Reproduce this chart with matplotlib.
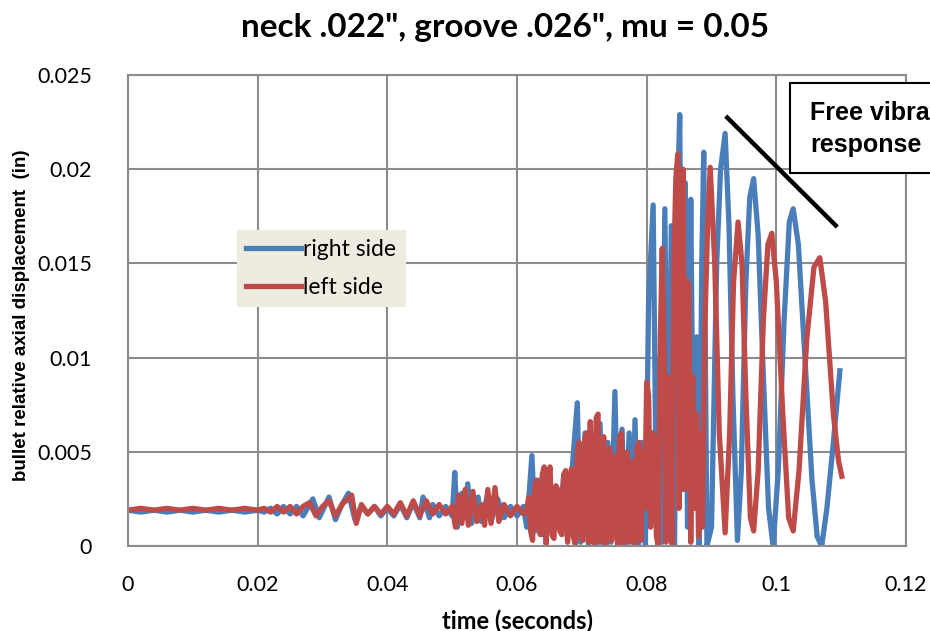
import matplotlib
matplotlib.use("Agg")
import matplotlib.pyplot as plt
from matplotlib.patches import Rectangle

plt.rcParams['font.family'] = ['Lato', 'DejaVu Sans']

# right side (blue) readings: time (s), relative axial displacement (in)
t_right = [0.000, 0.002, 0.004, 0.006, 0.008, 0.010, 0.012, 0.014, 0.016, 0.018, 0.020,
           0.021, 0.022, 0.023, 0.024, 0.025, 0.026, 0.027, 0.0285, 0.0295, 0.031, 0.032,
           0.033, 0.034, 0.035, 0.036, 0.037, 0.038, 0.039, 0.040, 0.041, 0.042, 0.043,
           0.044, 0.045, 0.0455, 0.0465, 0.047, 0.048, 0.049, 0.050, 0.0504, 0.0508,
           0.0515, 0.052, 0.0524, 0.053, 0.054, 0.0545, 0.0555, 0.056, 0.057, 0.058,
           0.059, 0.060, 0.061, 0.0615, 0.0623, 0.0628, 0.0635, 0.064, 0.0648, 0.0655,
           0.066, 0.0665, 0.0672, 0.0678, 0.0686, 0.0693, 0.0698, 0.0705, 0.071, 0.0716,
           0.0722, 0.0728, 0.0734, 0.074, 0.0745, 0.0751, 0.0756, 0.0762, 0.0767, 0.0773,
           0.0778, 0.0782, 0.0787, 0.0793, 0.0798, 0.0803, 0.0810, 0.0815, 0.0820, 0.0824,
           0.0828, 0.0833, 0.0838, 0.0843, 0.0848, 0.0851, 0.0855, 0.0859, 0.0863, 0.0868,
           0.0872, 0.0877, 0.0881, 0.0885, 0.0888, 0.0893, 0.0900, 0.0908, 0.0914, 0.0921,
           0.0927, 0.0933, 0.0940, 0.0946, 0.0953, 0.0959, 0.0965, 0.0972, 0.0980, 0.0988,
           0.0995, 0.1003, 0.1012, 0.1020, 0.1026, 0.1034, 0.1044, 0.1055, 0.1063, 0.1070,
           0.1078, 0.1088, 0.1098]
y_right = [0.0019, 0.0018, 0.0019, 0.0018, 0.0019, 0.0018, 0.0019, 0.0018, 0.0019, 0.0018, 0.0019,
           0.0018, 0.0020, 0.0017, 0.0021, 0.0017, 0.0021, 0.0016, 0.0025, 0.0015, 0.0026, 0.0014,
           0.0022, 0.0028, 0.0014, 0.0021, 0.0017, 0.0021, 0.0016, 0.0020, 0.0016, 0.0022, 0.0015,
           0.0023, 0.0015, 0.0026, 0.0015, 0.0022, 0.0016, 0.0021, 0.0016, 0.0039, 0.0010,
           0.0028, 0.0015, 0.0033, 0.0012, 0.0026, 0.0013, 0.0028, 0.0013, 0.0025, 0.0015,
           0.0021, 0.0016, 0.0021, 0.0010, 0.0048, 0.0008, 0.0035, 0.0006, 0.0034, 0.0005,
           0.0028, 0.0010, 0.0037, 0.0003, 0.0045, 0.0076, 0.0002, 0.0060, 0.0001, 0.0058,
           0.0000, 0.0065, 0.0001, 0.0055, 0.0002, 0.0082, 0.0001, 0.0062, 0.0000, 0.0060,
           0.0002, 0.0067, 0.0000, 0.0055, 0.0000, 0.0130, 0.0181, 0.0020, 0.0100, 0.0002,
           0.0179, 0.0010, 0.0170, 0.0000, 0.0190, 0.0229, 0.0030, 0.0193, 0.0010, 0.0184,
           0.0040, 0.0111, 0.0000, 0.0150, 0.0209, 0.0000, 0.0010, 0.0150, 0.0200, 0.0219,
           0.0170, 0.0080, 0.0003, 0.0040, 0.0140, 0.0185, 0.0195, 0.0165, 0.0090, 0.0020,
           0.0000, 0.0040, 0.0120, 0.0172, 0.0179, 0.0160, 0.0100, 0.0035, 0.0005, 0.0000,
           0.0020, 0.0055, 0.0093]

# left side (red) readings
t_left = [0.000, 0.002, 0.004, 0.006, 0.008, 0.010, 0.012, 0.014, 0.016, 0.018, 0.020,
          0.021, 0.022, 0.023, 0.024, 0.025, 0.026, 0.027, 0.028, 0.029, 0.030,
          0.031, 0.032, 0.033, 0.0345, 0.0352, 0.036, 0.037, 0.038, 0.039, 0.040,
          0.041, 0.042, 0.043, 0.044, 0.045, 0.046, 0.047, 0.048, 0.049, 0.050,
          0.0505, 0.051, 0.0515, 0.052, 0.0525, 0.0532, 0.0538, 0.0545, 0.055, 0.0555,
          0.056, 0.0566, 0.0572, 0.058, 0.059, 0.060, 0.061,
          0.0615, 0.0618, 0.0621, 0.0624, 0.0627, 0.0630, 0.0633, 0.0636, 0.0639, 0.0642,
          0.0645, 0.0648, 0.0651, 0.0654, 0.0657, 0.0660, 0.0663, 0.0666, 0.0669, 0.0672,
          0.0675, 0.0678, 0.0681, 0.0684, 0.0687, 0.0690, 0.0693, 0.0696, 0.0699, 0.0702,
          0.0705, 0.0708, 0.0711, 0.0713, 0.0716, 0.0719, 0.0722, 0.0725, 0.0728, 0.0731,
          0.0734, 0.0737, 0.0740, 0.0743, 0.0746, 0.0749, 0.0752, 0.0755, 0.0758, 0.0761,
          0.0764, 0.0767, 0.0770, 0.0773, 0.0776, 0.0779, 0.0782, 0.0785, 0.0788, 0.0791,
          0.0794, 0.0797, 0.0800, 0.0803, 0.0806, 0.0809, 0.0812, 0.0815, 0.0818, 0.0821,
          0.0824, 0.0827, 0.0830, 0.0833, 0.0836, 0.0839, 0.0842, 0.0845, 0.0848, 0.0850,
          0.0853, 0.0856, 0.0859, 0.0862, 0.0865, 0.0868, 0.0871, 0.0874, 0.0877, 0.0880,
          0.0883, 0.0886, 0.0890, 0.0894, 0.0898,
          0.0905, 0.0912, 0.0921, 0.0928, 0.0934, 0.0941, 0.0947, 0.0953, 0.0960, 0.0965,
          0.0972, 0.0980, 0.0987, 0.0993, 0.1000, 0.1010, 0.1019, 0.1026, 0.1035, 0.1047,
          0.1058, 0.1067, 0.1076, 0.1088, 0.1096, 0.1101]
y_left = [0.0019, 0.0020, 0.0019, 0.0020, 0.0019, 0.0020, 0.0019, 0.0020, 0.0019, 0.0020, 0.0019,
          0.0020, 0.0018, 0.0021, 0.0018, 0.0021, 0.0017, 0.0021, 0.0023, 0.0016, 0.0021,
          0.0024, 0.0016, 0.0022, 0.0027, 0.0012, 0.0022, 0.0017, 0.0021, 0.0017, 0.0021,
          0.0017, 0.0023, 0.0016, 0.0024, 0.0016, 0.0024, 0.0017, 0.0022, 0.0017, 0.0021,
          0.0010, 0.0027, 0.0012, 0.0030, 0.0011, 0.0029, 0.0013, 0.0022, 0.0011, 0.0030,
          0.0012, 0.0031, 0.0013, 0.0022, 0.0016, 0.0021, 0.0017,
          0.0019, 0.0026, 0.0008, 0.0003, 0.0030, 0.0035, 0.0010, 0.0006, 0.0038, 0.0042,
          0.0001, 0.0035, 0.0042, 0.0006, 0.0004, 0.0032, 0.0030, 0.0008, 0.0006, 0.0038,
          0.0040, 0.0002, 0.0030, 0.0041, 0.0005, 0.0001, 0.0050, 0.0055, 0.0004, 0.0003,
          0.0058, 0.0060, 0.0002, 0.0066, 0.0010, 0.0001, 0.0068, 0.0070, 0.0002, 0.0055,
          0.0058, 0.0000, 0.0050, 0.0052, 0.0003, 0.0045, 0.0048, 0.0001, 0.0057, 0.0060,
          0.0000, 0.0045, 0.0050, 0.0002, 0.0040, 0.0045, 0.0000, 0.0052, 0.0055, 0.0003,
          0.0050, 0.0020, 0.0087, 0.0080, 0.0010, 0.0060, 0.0058, 0.0005, 0.0000, 0.0110,
          0.0158, 0.0100, 0.0002, 0.0090, 0.0085, 0.0001, 0.0150, 0.0195, 0.0208, 0.0020,
          0.0120, 0.0200, 0.0030, 0.0141, 0.0138, 0.0002, 0.0090, 0.0020, 0.0070, 0.0005,
          0.0060, 0.0010, 0.0120, 0.0170, 0.0201,
          0.0150, 0.0060, 0.0007, 0.0060, 0.0140, 0.0172, 0.0150, 0.0080, 0.0015, 0.0008,
          0.0040, 0.0120, 0.0160, 0.0166, 0.0140, 0.0070, 0.0015, 0.0008, 0.0040, 0.0110,
          0.0148, 0.0153, 0.0130, 0.0070, 0.0045, 0.0037]

x_ticks = [0, 0.02, 0.04, 0.06, 0.08, 0.1, 0.12]
x_tick_labels = ['0', '0.02', '0.04', '0.06', '0.08', '0.1', '0.12']
y_ticks = [0, 0.005, 0.01, 0.015, 0.02, 0.025]
y_tick_labels = ['0', '0.005', '0.01', '0.015', '0.02', '0.025']

assert len(t_right) == len(y_right) and len(t_left) == len(y_left)

blue = '#4A7EBB'
red = '#BE4B48'
grid_grey = '#8C8C8C'

fig = plt.figure(figsize=(9.3, 6.31), dpi=100)
ax = fig.add_axes([128 / 930, 1 - 546 / 631, 778 / 930, 471 / 631])

ax.plot(t_right, y_right, color=blue, lw=3.8, solid_joinstyle='round', label='right side')
ax.plot(t_left, y_left, color=red, lw=3.8, solid_joinstyle='round', label='left side')

ax.set_xlim(0, 0.12)
ax.set_ylim(0, 0.025)
ax.set_xticks(x_ticks)
ax.set_xticklabels(x_tick_labels)
ax.set_yticks(y_ticks)
ax.set_yticklabels(y_tick_labels)
ax.tick_params(length=0, labelsize=15.5)
ax.tick_params(axis='x', pad=21)
ax.tick_params(axis='y', pad=26)
ax.grid(True, color=grid_grey, lw=1.5)
ax.set_axisbelow(True)
for s in ax.spines.values():
    s.set_color(grid_grey)
    s.set_linewidth(1.5)

ax.set_xlabel('time (seconds)', fontsize=17, fontweight='bold', labelpad=10)
fig.text(22 / 930, 1 - 315 / 631, 'bullet relative axial displacement  (in)',
         rotation=90, ha='center', va='center', fontsize=13.5, fontweight='bold',
         family=['Liberation Sans', 'DejaVu Sans'])
fig.text(505 / 930, 1 - 27 / 631, 'neck .022", groove .026", mu = 0.05',
         ha='center', va='center', fontsize=24, fontweight='bold')

leg = ax.legend(loc='upper left', bbox_to_anchor=(0.140, 0.671), borderaxespad=0,
                frameon=True, fancybox=False, handlelength=2.4, handletextpad=0.1,
                fontsize=16.5, borderpad=0.4, labelspacing=0.75)
leg.get_frame().set_facecolor('#EEECE1')
leg.get_frame().set_edgecolor('none')
leg.get_frame().set_alpha(1)

# free vibration pointer and callout
ax.plot([0.0922, 0.1094], [0.02282, 0.01693], color='black', lw=3.2,
        solid_capstyle='butt', clip_on=False, zorder=5)
fig.patches.append(Rectangle((790 / 930, 1 - 173 / 631), 200 / 930, 90 / 631,
                             transform=fig.transFigure, facecolor='white',
                             edgecolor='black', lw=1.5, zorder=6))
callout_font = dict(ha='left', va='baseline', fontsize=18, fontweight='bold',
                    family=['Liberation Sans', 'DejaVu Sans'], zorder=7)
fig.text(810 / 930, 1 - 120 / 631, 'Free vibration', **callout_font)
fig.text(810 / 930, 1 - 152 / 631, 'response', **callout_font)

fig.savefig('out.png', dpi=100)
